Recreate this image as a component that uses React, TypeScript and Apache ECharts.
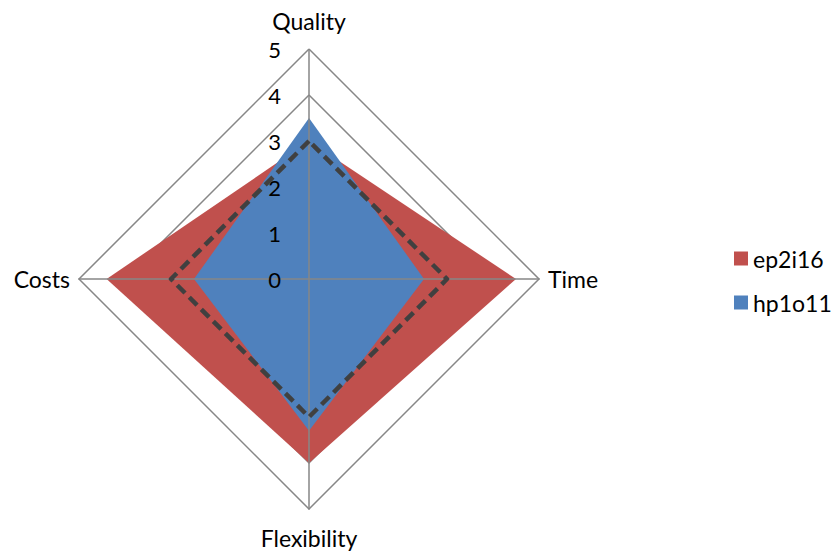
import React, { useEffect, useRef } from "react";
import * as echarts from "echarts";

// Indicators in ECharts order (counter-clockwise from top)
const indicatorNames = ["Quality", "Costs", "Flexibility", "Time"];
const maxValue = 5;
const seriesNames = ["ep2i16", "hp1o11"];
const ep2i16 = [3, 4.4, 4, 4.5];
const hp1o11 = [3.5, 2.5, 3.3, 2.5];
const reference = [3, 3, 3, 3];
const spokeA = [5, 0, 5, 0];
const spokeB = [0, 5, 0, 5];

const FONT = "Lato";

export default function App() {
  const ref = useRef<HTMLDivElement>(null);
  useEffect(() => {
    document.body.style.margin = "0";
    const chart = echarts.init(ref.current!, undefined, { renderer: "svg" });
    const gridGray = "#878787";
    chart.setOption({
      animation: false,
      textStyle: { fontFamily: FONT },
      legend: {
        orient: "vertical",
        left: 729,
        top: 242,
        itemWidth: 14,
        itemHeight: 14,
        itemGap: 21,
        icon: "rect",
        data: seriesNames,
        textStyle: { fontFamily: FONT, fontSize: 23, color: "#000" },
      },
      radar: [
        {
          center: [309, 279],
          radius: 230,
          z: 0,
          splitNumber: 5,
          shape: "polygon",
          indicator: indicatorNames.map((n) => ({ name: n, min: 0, max: maxValue })),
          axisName: { color: "#000", fontSize: 23, fontFamily: FONT, padding: [8, 0, 8, 0] },
          nameGap: 9,
          splitLine: { lineStyle: { color: gridGray, width: 1.5 } },
          splitArea: { show: false },
          axisLine: { show: false },
          axisLabel: { show: false },
        },
        {
          center: [309, 279],
          radius: 230,
          z: 3,
          splitNumber: 5,
          shape: "polygon",
          indicator: indicatorNames.map((n, i) => ({
            name: n,
            min: 0,
            max: maxValue,
            axisLabel:
              i === 0
                ? { show: true, color: "#000", fontSize: 22, fontFamily: FONT, margin: 28 }
                : { show: false },
          })),
          axisName: { show: false },
          splitLine: { show: false },
          splitArea: { show: false },
          axisLine: { show: false },
          axisTick: { show: false },
          axisLabel: { show: false },
        },
      ],
      series: [
        {
          type: "radar",
          radarIndex: 0,
          z: 2,
          symbol: "none",
          data: [
            {
              name: seriesNames[0],
              value: ep2i16,
              itemStyle: { color: "#C0504D" },
              lineStyle: { width: 0, color: "#C0504D" },
              areaStyle: { color: "#C0504D", opacity: 1 },
            },
            {
              name: seriesNames[1],
              value: hp1o11,
              itemStyle: { color: "#4F81BD" },
              lineStyle: { width: 0, color: "#4F81BD" },
              areaStyle: { color: "#4F81BD", opacity: 1 },
            },
          ],
        },
        {
          type: "radar",
          name: "axes",
          radarIndex: 0,
          z: 3,
          symbol: "none",
          silent: true,
          data: [
            { name: "axisV", value: spokeA, lineStyle: { color: gridGray, width: 1.5 } },
            { name: "axisH", value: spokeB, lineStyle: { color: gridGray, width: 1.5 } },
          ],
        },
        {
          type: "radar",
          radarIndex: 0,
          z: 4,
          symbol: "none",
          data: [
            {
              name: "reference",
              value: reference,
              lineStyle: { color: "#404040", width: 4.5, type: [11, 6] },
            },
          ],
        },
      ],
    });
    return () => chart.dispose();
  }, []);
  return <div ref={ref} style={{ width: 835, height: 551 }} />;
}
